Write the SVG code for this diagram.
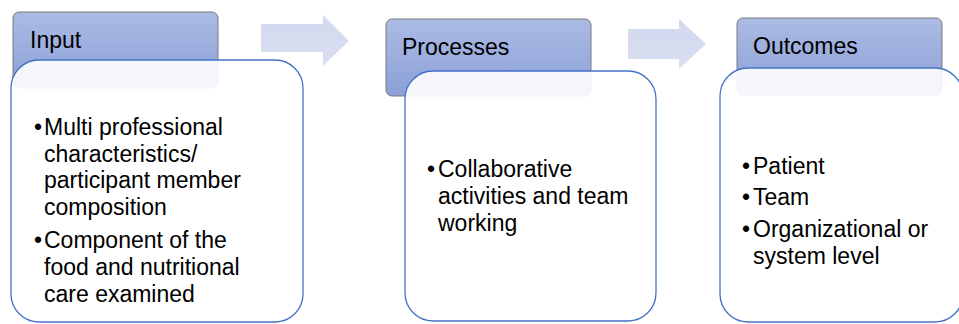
<svg xmlns="http://www.w3.org/2000/svg" width="959" height="324" viewBox="0 0 959 324">
  <defs>
    <linearGradient id="hdr" x1="0" y1="0" x2="0" y2="1">
      <stop offset="0" stop-color="#abbbe4"/>
      <stop offset="1" stop-color="#8ba0d7"/>
    </linearGradient>
    <linearGradient id="arr" x1="0" y1="0" x2="0" y2="1">
      <stop offset="0" stop-color="#d2d8ee"/>
      <stop offset="1" stop-color="#dadff1"/>
    </linearGradient>
  </defs>
  <style>
    .hdr { fill: url(#hdr); stroke: #7a7a7a; stroke-width: 1; }
    .body { fill: #ffffff; fill-opacity: 0.9; stroke: #4472c4; stroke-width: 1.3; }
    .arrow { fill: url(#arr); stroke: none; }
    text { font-family: "Liberation Sans", Arial, sans-serif; font-size: 23px; fill: #000000; }
  </style>

  <g id="connectors">
    <polygon class="arrow" points="261,24 323,24 323,15 349,41 323,66 323,52 261,52"/>
    <polygon class="arrow" points="628,29 679,29 679,19 706,44 679,69 679,59 628,59"/>
  </g>

  <g id="input">
    <rect class="hdr" x="13" y="12" width="205" height="76" rx="6"/>
    <text x="30" y="48">Input</text>
    <rect class="body" x="11" y="60" width="292" height="262" rx="28"/>
    <text x="34" y="135">•</text>
    <text x="44" y="135">Multi professional</text>
    <text x="44" y="162">characteristics/</text>
    <text x="44" y="188">participant member</text>
    <text x="44" y="215">composition</text>
    <text x="34" y="248">•</text>
    <text x="44" y="248">Component of the</text>
    <text x="44" y="275">food and nutritional</text>
    <text x="44" y="302">care examined</text>
  </g>

  <g id="processes">
    <rect class="hdr" x="386" y="19" width="205" height="77" rx="6"/>
    <text x="402" y="55">Processes</text>
    <rect class="body" x="405" y="71" width="251" height="250" rx="28"/>
    <text x="427" y="177">•</text>
    <text x="438" y="177">Collaborative</text>
    <text x="438" y="204">activities and team</text>
    <text x="438" y="231">working</text>
  </g>

  <g id="outcomes">
    <rect class="hdr" x="737" y="18" width="205" height="77" rx="6"/>
    <text x="753" y="54">Outcomes</text>
    <rect class="body" x="720" y="68" width="243" height="254" rx="28"/>
    <text x="742" y="174">•</text>
    <text x="753" y="174">Patient</text>
    <text x="742" y="205">•</text>
    <text x="753" y="205">Team</text>
    <text x="742" y="237">•</text>
    <text x="753" y="237">Organizational or</text>
    <text x="753" y="264">system level</text>
  </g>
</svg>
